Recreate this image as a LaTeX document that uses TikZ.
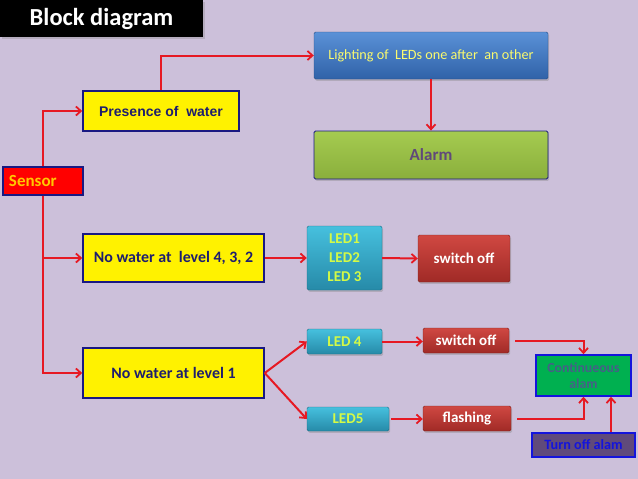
\documentclass[tikz,border=0pt]{standalone}
\usepackage{fontspec}
\setmainfont{Carlito}
\newfontfamily\arialf{Liberation Sans}
\usetikzlibrary{arrows.meta,shadows}
\definecolor{bg}{RGB}{204,192,218}
\definecolor{navy}{RGB}{25,25,130}
\definecolor{arrred}{RGB}{230,25,35}
\definecolor{ptxt}{RGB}{30,30,110}
\definecolor{lightT}{RGB}{90,145,215}
\definecolor{lightB}{RGB}{48,98,168}
\definecolor{ltxt}{RGB}{250,250,110}
\definecolor{almT}{RGB}{165,203,80}
\definecolor{almB}{RGB}{138,175,60}
\definecolor{almtxt}{RGB}{96,73,122}
\definecolor{ledT}{RGB}{70,192,222}
\definecolor{ledB}{RGB}{38,138,168}
\definecolor{ledtxt}{RGB}{212,250,70}
\definecolor{swT}{RGB}{208,72,66}
\definecolor{swB}{RGB}{160,42,38}
\definecolor{contg}{RGB}{0,176,80}
\definecolor{conttxt}{RGB}{70,95,135}
\definecolor{toffill}{RGB}{96,74,123}
\definecolor{bblue}{RGB}{20,20,220}
\definecolor{senstxt}{RGB}{255,200,0}
\begin{document}
\begin{tikzpicture}[x=1pt,y=-1pt,
  box/.style={inner sep=0pt, align=center},
  ybox/.style={box, fill=yellow, draw=navy, line width=1.5pt, text=ptxt, font=\bfseries\fontsize{15.9}{17}\selectfont},
  shbox/.style={box, rounded corners=1.5pt, drop shadow={opacity=0.35, shadow xshift=1.2pt, shadow yshift=-1.8pt}},
  lightbox/.style={shbox, top color=lightT, bottom color=lightB, draw=lightB!80!black, line width=0.4pt, text=ltxt, font=\fontsize{14.2}{16}\selectfont},
  ledbox/.style={shbox, top color=ledT, bottom color=ledB, draw=ledB!80!black, line width=0.4pt, text=ledtxt, font=\bfseries\fontsize{15}{19}\selectfont},
  swbox/.style={shbox, top color=swT, bottom color=swB, draw=swB!80!black, line width=0.4pt, text=white, font=\bfseries\fontsize{15}{17}\selectfont},
  arr/.style={draw=arrred, line width=2pt, -{Straight Barb[length=5pt,width=9pt,line width=1.8pt]}}
]
\useasboundingbox (0,0) rectangle (638,479);
\fill[bg] (0,0) rectangle (638,479);

% title
\node[box, fill=black, minimum width=203pt, minimum height=37pt, text=white, font=\bfseries\fontsize{24.5}{27}\selectfont,
  drop shadow={opacity=0.3, shadow xshift=1.5pt, shadow yshift=-1.5pt}] (title) at (101.5,18.5) {Block diagram};

% nodes
\node[ybox, minimum width=156pt, minimum height=40pt, font=\arialf\bfseries\fontsize{14}{16}\selectfont] (pres) at (161,111) {Presence of\ \ water};
\node[box, fill=red, draw=navy, line width=1.2pt, minimum width=80pt, minimum height=28pt, text=senstxt, font=\bfseries\fontsize{17}{19}\selectfont, text width=68pt, align=left] (sensor) at (43,181) {Sensor};
\node[lightbox, minimum width=234pt, minimum height=47pt] (light) at (431,55.5) {Lighting of\ \ LEDs one after\ \ an other};
\node[shbox, top color=almT, bottom color=almB, draw=navy, line width=0.8pt, minimum width=234pt, minimum height=48pt, text=almtxt, font=\bfseries\fontsize{17}{19}\selectfont] (alarm) at (431,155) {Alarm};
\node[ybox, minimum width=181pt, minimum height=48pt] (l432) at (173.5,258) {No water at\ \ level 4, 3, 2};
\node[ybox, minimum width=181pt, minimum height=50pt] (l1) at (173.5,373) {No water at level 1};
\node[ledbox, minimum width=75pt, minimum height=64pt] (led123) at (344.5,258) {LED1\\LED2\\LED 3};
\node[swbox, minimum width=92pt, minimum height=47pt] (sw1) at (464,258.5) {switch off};
\node[ledbox, minimum width=75pt, minimum height=25pt] (led4) at (344.5,341.5) {LED 4};
\node[swbox, minimum width=86pt, minimum height=25pt] (sw2) at (466,340.5) {switch off};
\node[ledbox, minimum width=82pt, minimum height=24pt] (led5) at (348,419) {LED5};
\node[swbox, minimum width=88pt, minimum height=25pt] (flash) at (467,418.5) {flashing};
\node[box, fill=contg, draw=bblue, line width=1.5pt, minimum width=95pt, minimum height=41pt, text=conttxt, font=\bfseries\fontsize{13.8}{16.5}\selectfont] (cont) at (583.5,375.5) {Continueous\\alam};
\node[box, fill=toffill, draw=bblue, line width=1.5pt, minimum width=103pt, minimum height=24pt, text=bblue, font=\bfseries\fontsize{14.2}{16}\selectfont] (toff) at (583.5,445) {Turn off alam};

% connectors
\draw[arr] (sensor.north) |- (pres.west);
\draw[arr] (sensor.south) |- (l432.west);
\draw[arr] (sensor.south) |- (l1.west);
\draw[arr] (pres.north) |- (light.west);
\draw[arr] (light.south) -- (alarm.north);
\draw[arr] (l432.east) -- (led123.west);
\draw[arr] (led123.east) -- (sw1.west);
\draw[arr] (l1.east) -- (led4.west);
\draw[arr] (l1.east) -- (led5.west);
\draw[arr] (led4.east) -- (led4.east -| sw2.west);
\draw[arr, shorten <=2pt] (led5.east) -- (led5.east -| flash.west);
\draw[arr, shorten <=6pt] (sw2.east) -| (cont.north);
\draw[arr, shorten <=6pt] (flash.east) -| (cont.south);
\coordinate (toffa) at ([xshift=27.5pt]toff.north);
\draw[arr] (toffa) -- (toffa |- cont.south);
\end{tikzpicture}
\end{document}
